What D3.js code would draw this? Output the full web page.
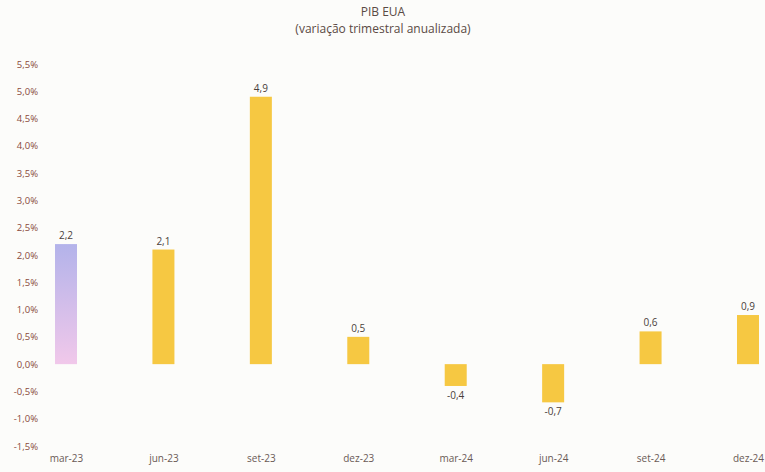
<!DOCTYPE html>
<html>
<head>
<meta charset="utf-8">
<script src="https://cdn.jsdelivr.net/npm/d3@7"></script>
<style>
  body { margin: 0; background: #fcfcfa; }
  svg { display: block; font-family: 'Open Sans', sans-serif; }
</style>
</head>
<body>
<svg></svg>
<script>
let categories = ['mar-23','jun-23','set-23','dez-23','mar-24','jun-24','set-24','dez-24']
let values = [2.2, 2.1, 4.9, 0.5, -0.4, -0.7, 0.6, 0.9]
let valueLabels = ['2,2','2,1','4,9','0,5','-0,4','-0,7','0,6','0,9']
let yTicks = [-1.5,-1.0,-0.5,0,0.5,1.0,1.5,2.0,2.5,3.0,3.5,4.0,4.5,5.0,5.5]

let width = 765
let height = 472
let barWidth = 22

let svg = d3.select('svg')
svg.attr('width', width).attr('height', height)

let defs = svg.append('defs')
let grad = defs.append('linearGradient')
               .attr('id','firstBar')
               .attr('x1','0').attr('y1','0').attr('x2','0').attr('y2','1')
grad.append('stop').attr('offset','0%').attr('stop-color','#b3b3ea')
grad.append('stop').attr('offset','100%').attr('stop-color','#f1c8ea')

let xScale = d3.scalePoint()
               .domain(categories)
               .range([66, 748])

let yScale = d3.scaleLinear()
               .domain([-1.5, 5.5])
               .range([446, 64])

// title
svg.append('text')
   .attr('x', 383).attr('y', 16)
   .attr('text-anchor','middle')
   .attr('fill','#5a4a44')
   .style('font-size','12px')
   .text('PIB EUA')
svg.append('text')
   .attr('x', 383).attr('y', 33)
   .attr('text-anchor','middle')
   .attr('fill','#5a4a44')
   .style('font-size','12px')
   .text('(variação trimestral anualizada)')

// y axis
let yAxis = d3.axisLeft(yScale)
              .tickValues(yTicks)
              .tickSize(0)
              .tickPadding(0)
              .tickFormat((d) => d3.format('.1f')(d).replace('.', ',').replace('−','-') + '%')

let yG = svg.append('g')
            .attr('transform','translate(38,0)')
            .call(yAxis)
yG.select('.domain').remove()
yG.selectAll('text')
  .attr('fill','#8a4a3a')
  .style('font-size','9.5px')
  .style('font-family',"'Open Sans', sans-serif")

// x axis labels
let xAxis = d3.axisBottom(xScale).tickSize(0).tickPadding(0)
let xG = svg.append('g')
            .attr('transform','translate(0,455)')
            .call(xAxis)
xG.select('.domain').remove()
xG.selectAll('text')
  .attr('fill','#6a5a56')
  .style('font-size','10px')
  .style('font-family',"'Open Sans', sans-serif")

// bars
svg.selectAll('rect.bar')
   .data(values)
   .enter()
   .append('rect')
   .attr('class','bar')
   .attr('x', (d,i) => xScale(categories[i]) - barWidth/2)
   .attr('y', (d) => yScale(Math.max(0, d)))
   .attr('width', barWidth)
   .attr('height', (d) => Math.abs(yScale(d) - yScale(0)))
   .attr('fill', (d,i) => i === 0 ? 'url(#firstBar)' : '#f6c842')

// value labels
svg.selectAll('text.val')
   .data(values)
   .enter()
   .append('text')
   .attr('class','val')
   .attr('x', (d,i) => xScale(categories[i]))
   .attr('y', (d) => d >= 0 ? yScale(d) - 5 : yScale(d) + 13)
   .attr('text-anchor','middle')
   .attr('fill','#4a3e3a')
   .style('font-size','10px')
   .text((d,i) => valueLabels[i])
</script>
</body>
</html>
